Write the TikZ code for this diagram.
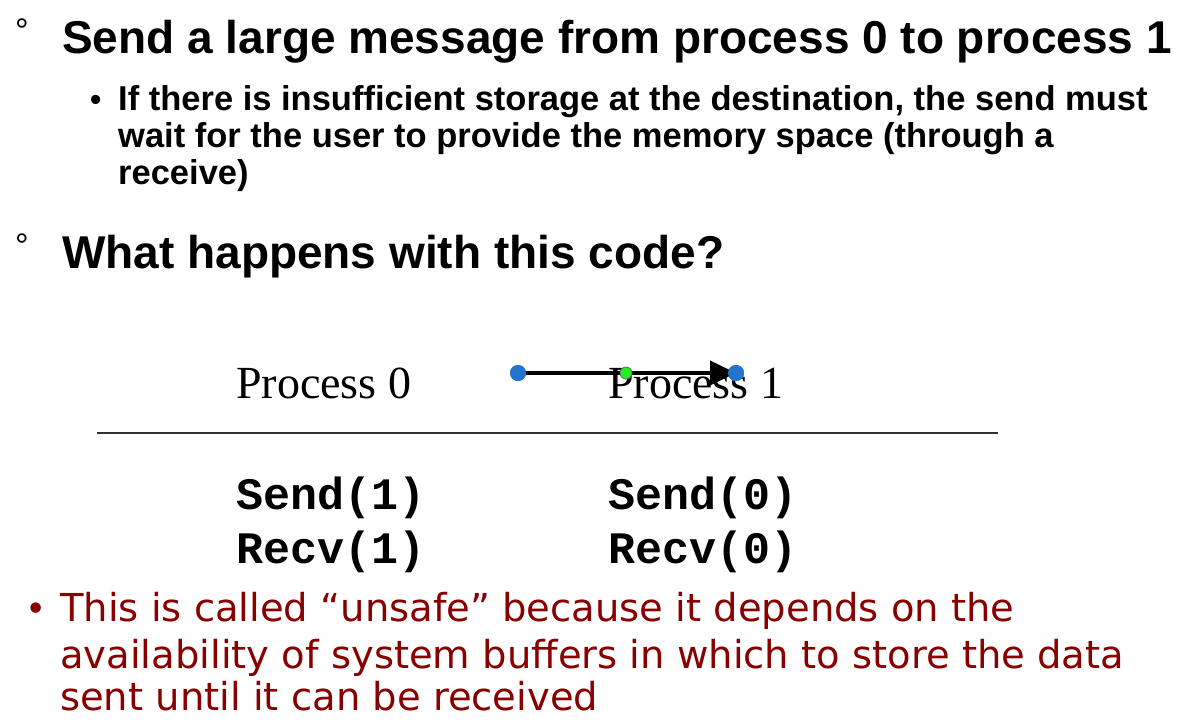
\documentclass[tikz,border=0pt]{standalone}
\usepackage{fontspec}
\usetikzlibrary{arrows.meta}
\setmainfont{Liberation Sans}
\newfontfamily\serifface{Liberation Serif}
\newfontfamily\codeface{Liberation Mono}
\newfontfamily\verdface{DejaVu Sans}
\definecolor{darkred}{HTML}{880000}
\definecolor{handleblue}{HTML}{2274CC}
\definecolor{handlegreen}{HTML}{22EE22}
\definecolor{rulegray}{HTML}{303030}
\begin{document}
\begin{tikzpicture}[x=1pt,y=-1pt,
  degsign/.style={anchor=base west,inner sep=0pt,font=\fontsize{34}{40}\selectfont},
  lvlone/.style={anchor=base west,inner sep=0pt,font=\fontsize{46}{52}\selectfont\bfseries},
  lvltwo/.style={anchor=base west,inner sep=0pt,font=\fontsize{34.5}{40}\selectfont\bfseries},
  proc/.style={anchor=base west,inner sep=0pt,font=\fontsize{46}{52}\selectfont\serifface},
  code/.style={anchor=base west,inner sep=0pt,font=\fontsize{45}{50}\selectfont\codeface\bfseries},
  note/.style={anchor=base west,inner sep=0pt,text=darkred,font=\fontsize{38.5}{44}\selectfont\verdface},
  handle/.style={circle,fill=handleblue,inner sep=0pt,minimum size=16pt},
  midhandle/.style={circle,fill=handlegreen,draw=black!60,line width=0.8pt,inner sep=0pt,minimum size=12pt}]
\useasboundingbox (0,0) rectangle (1182,724);
\fill[white] (0,0) rectangle (1182,724);
% top bullets
\node[degsign] (deg1) at (15,42) {°};
\node[lvlone] (t1) at (62,53) {Send a large message from process 0 to process 1};
\node[anchor=base west,inner sep=0pt,font=\fontsize{32}{36}\selectfont\bfseries] (b1) at (90,110) {•};
\node[lvltwo] (s1) at (118,110) {If there is insufficient storage at the destination, the send must};
\node[lvltwo] (s2) at (118,147) {wait for the user to provide the memory space (through a};
\node[lvltwo] (s3) at (118,184) {receive)};
\node[degsign] (deg2) at (15,257) {°};
\node[lvlone] (t2) at (62,268) {What happens with this code?};
% table
\node[proc] (p0) at (236,398) {Process 0};
\node[proc] (p1) at (608,398) {Process 1};
\coordinate (ruleL) at (97,433);
\coordinate (ruleR) at (998,433);
\draw[rulegray,line width=2pt] (ruleL) -- (ruleR);
\node[code] (c1) at (236,509) {Send(1)};
\node[code] (c2) at (236,563) {Recv(1)};
\node[code] (c3) at (608,509) {Send(0)};
\node[code] (c4) at (608,563) {Recv(0)};
% arrow with selection handles
\node[handle] (hA) at (518,373) {};
\node[handle] (hB) at (736,373) {};
\draw[line width=4pt,-{Triangle[length=26pt,width=24pt]}] (hA.center) -- (hB.center);
\node[handle] at (518,373) {};
\node[handle] at (736,373) {};
\node[midhandle] (hM) at (626,373) {};
% red note
\node[anchor=base west,inner sep=0pt,text=darkred,font=\fontsize{36}{42}\selectfont\verdface] (b2) at (25,621) {•};
\node[note] (n1) at (60,621) {This is called “unsafe” because it depends on the};
\node[note] (n2) at (60,668) {availability of system buffers in which to store the data};
\node[note] (n3) at (60,710) {sent until it can be received};
\end{tikzpicture}
\end{document}
